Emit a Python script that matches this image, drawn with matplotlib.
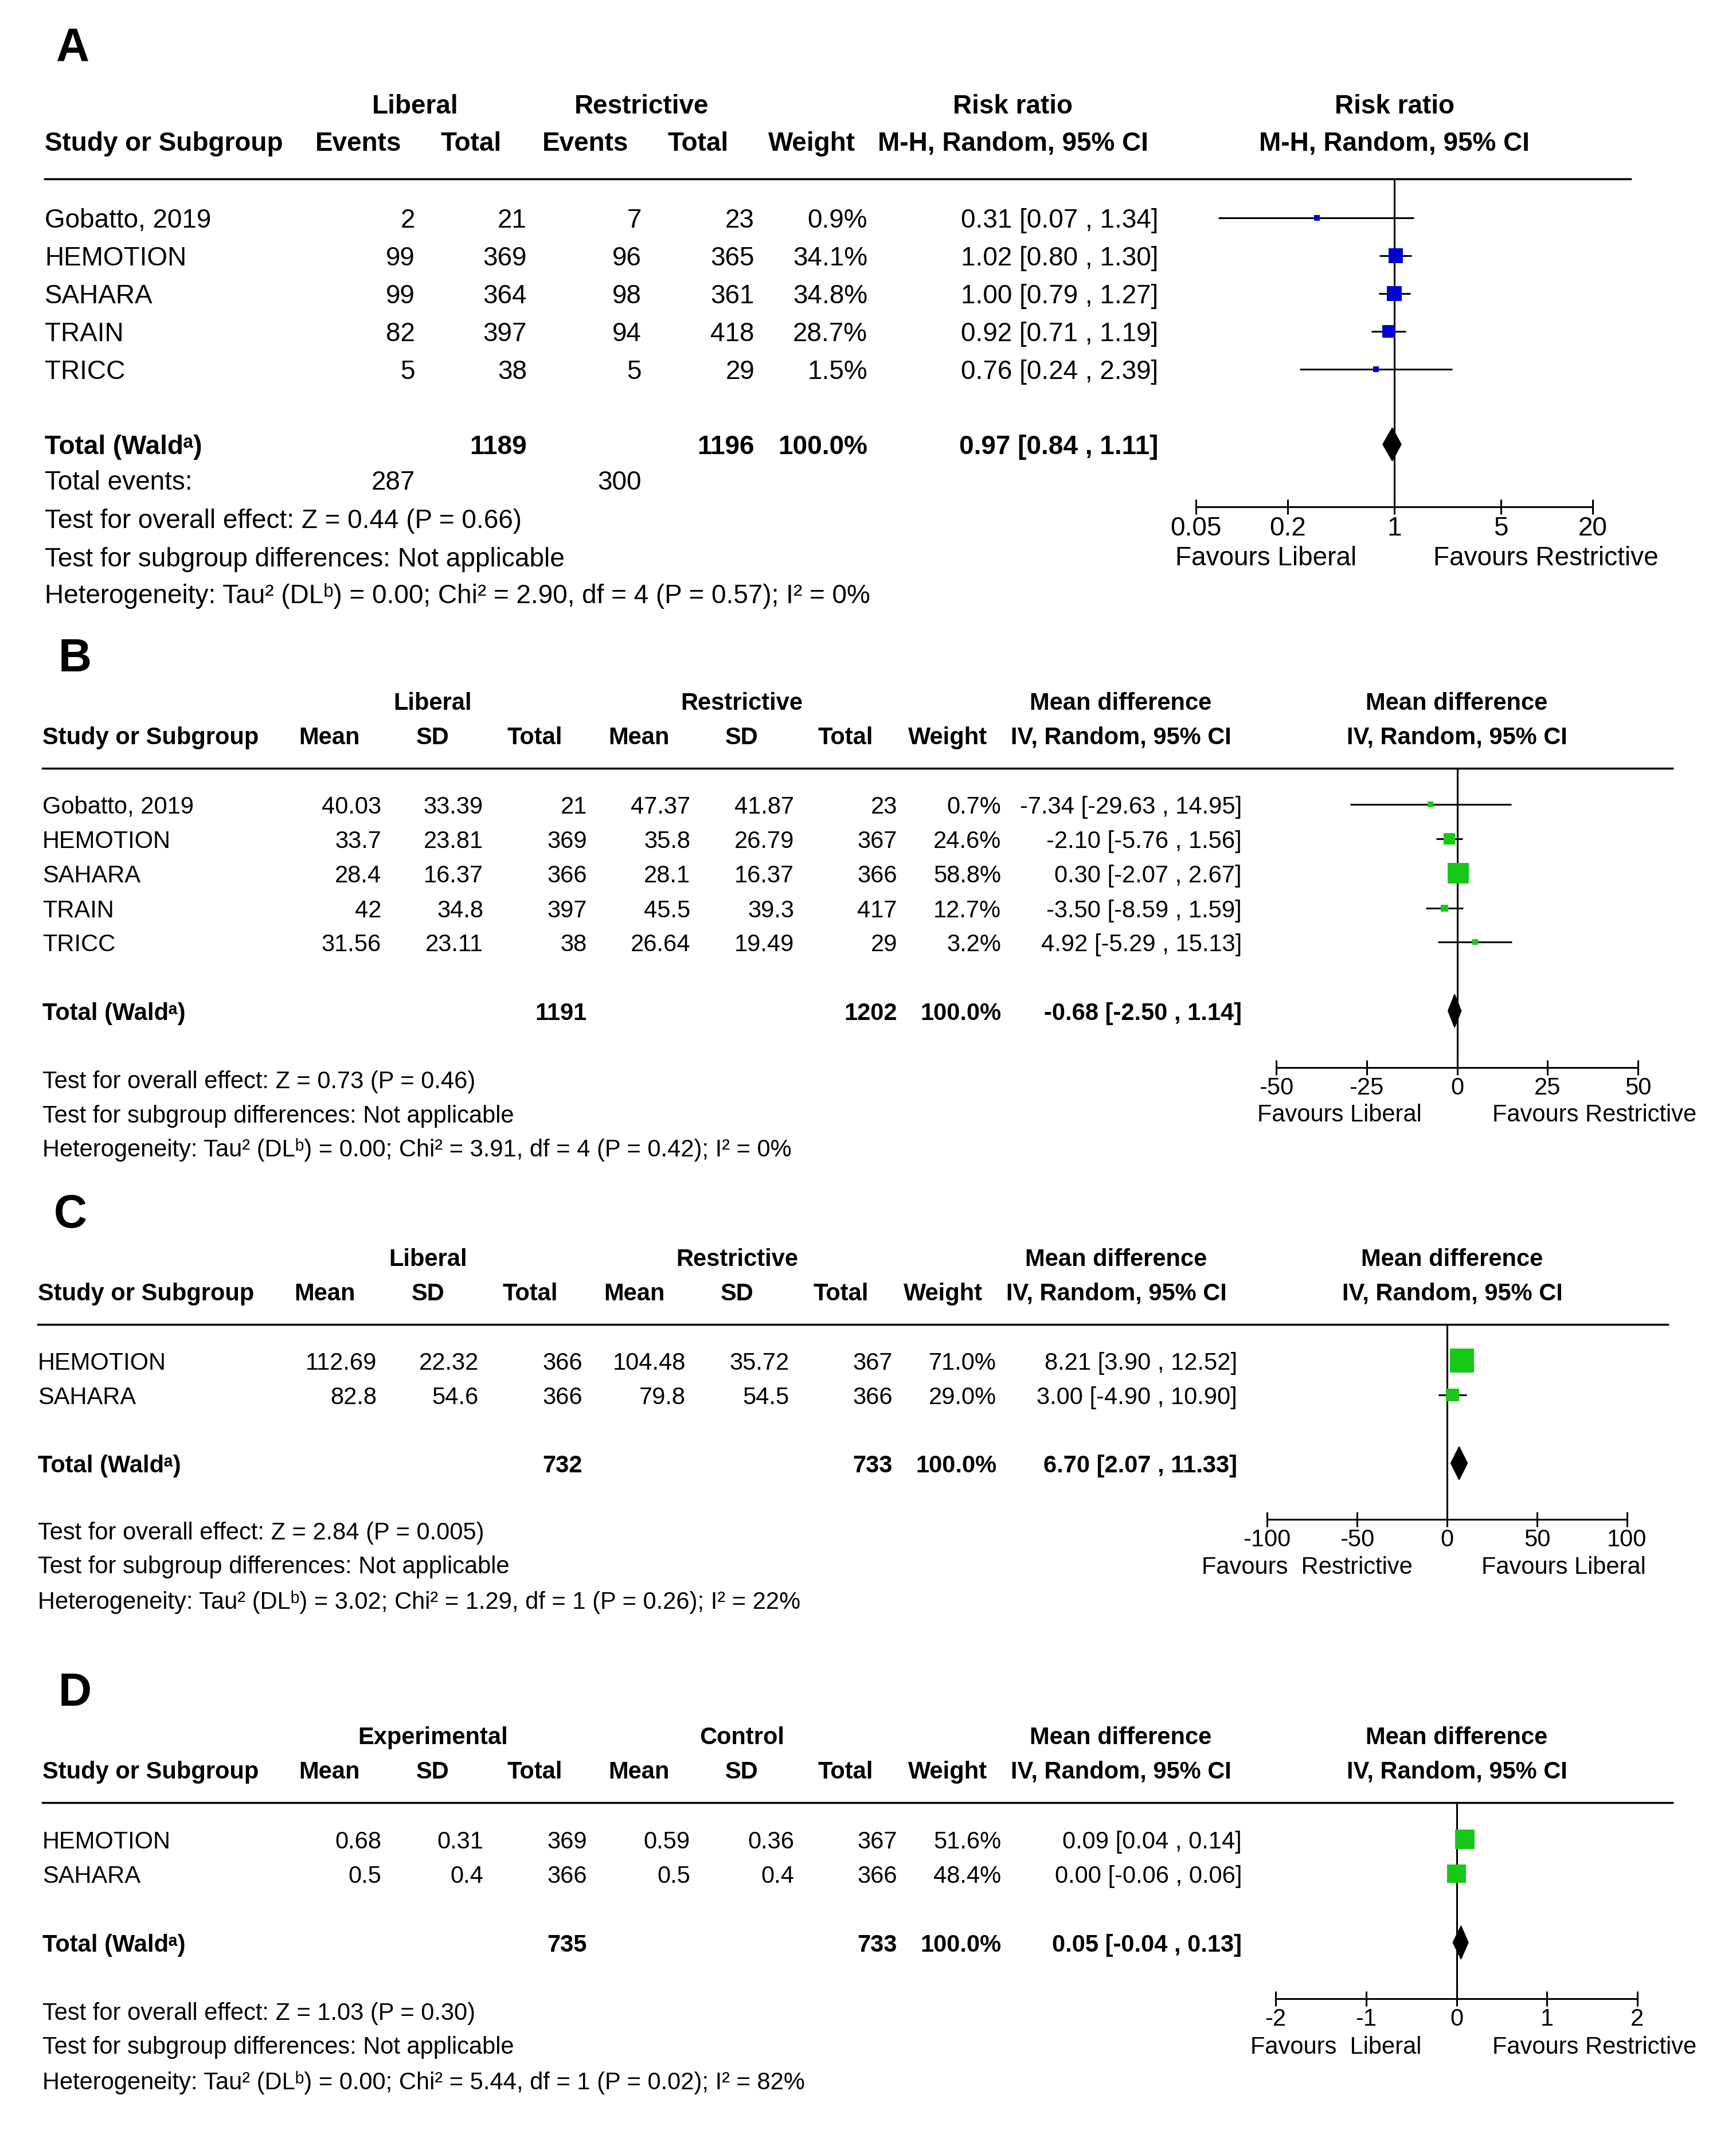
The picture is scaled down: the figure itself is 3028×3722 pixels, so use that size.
import matplotlib
matplotlib.use("Agg")
import matplotlib.pyplot as plt
from matplotlib.patches import Polygon
from matplotlib.ticker import NullLocator

plt.rcParams['font.family'] = ['Liberation Sans', 'DejaVu Sans']

# ---------------- data ----------------
# A: risk ratio
a_studies = ["Gobatto, 2019", "HEMOTION", "SAHARA", "TRAIN", "TRICC"]
a_lib_events = [2, 99, 99, 82, 5]
a_lib_total = [21, 369, 364, 397, 38]
a_res_events = [7, 96, 98, 94, 5]
a_res_total = [23, 365, 361, 418, 29]
a_weight = [0.9, 34.1, 34.8, 28.7, 1.5]
a_est = [0.31, 1.02, 1.00, 0.92, 0.76]
a_lo = [0.07, 0.80, 0.79, 0.71, 0.24]
a_hi = [1.34, 1.30, 1.27, 1.19, 2.39]
a_pooled = [0.97, 0.84, 1.11]
a_sum_total = [1189, 1196]
a_sum_events = [287, 300]

# B: mean difference
b_studies = ["Gobatto, 2019", "HEMOTION", "SAHARA", "TRAIN", "TRICC"]
b_lib_mean = [40.03, 33.7, 28.4, 42, 31.56]
b_lib_sd = [33.39, 23.81, 16.37, 34.8, 23.11]
b_lib_n = [21, 369, 366, 397, 38]
b_res_mean = [47.37, 35.8, 28.1, 45.5, 26.64]
b_res_sd = [41.87, 26.79, 16.37, 39.3, 19.49]
b_res_n = [23, 367, 366, 417, 29]
b_weight = [0.7, 24.6, 58.8, 12.7, 3.2]
b_est = [-7.34, -2.10, 0.30, -3.50, 4.92]
b_lo = [-29.63, -5.76, -2.07, -8.59, -5.29]
b_hi = [14.95, 1.56, 2.67, 1.59, 15.13]
b_pooled = [-0.68, -2.50, 1.14]
b_sum_total = [1191, 1202]

# C
c_studies = ["HEMOTION", "SAHARA"]
c_lib_mean = [112.69, 82.8]
c_lib_sd = [22.32, 54.6]
c_lib_n = [366, 366]
c_res_mean = [104.48, 79.8]
c_res_sd = [35.72, 54.5]
c_res_n = [367, 366]
c_weight = [71.0, 29.0]
c_est = [8.21, 3.00]
c_lo = [3.90, -4.90]
c_hi = [12.52, 10.90]
c_pooled = [6.70, 2.07, 11.33]
c_sum_total = [732, 733]

# D
d_studies = ["HEMOTION", "SAHARA"]
d_exp_mean = [0.68, 0.5]
d_exp_sd = [0.31, 0.4]
d_exp_n = [369, 366]
d_ctl_mean = [0.59, 0.5]
d_ctl_sd = [0.36, 0.4]
d_ctl_n = [367, 366]
d_weight = [51.6, 48.4]
d_est = [0.09, 0.00]
d_lo = [0.04, -0.06]
d_hi = [0.14, 0.06]
d_pooled = [0.05, -0.04, 0.13]
d_sum_total = [735, 733]

a_notes = ["Test for overall effect: Z = 0.44 (P = 0.66)",
           "Test for subgroup differences: Not applicable",
           "Heterogeneity: Tau² (DLᵇ) = 0.00; Chi² = 2.90, df = 4 (P = 0.57); I² = 0%"]
b_notes = ["Test for overall effect: Z = 0.73 (P = 0.46)",
           "Test for subgroup differences: Not applicable",
           "Heterogeneity: Tau² (DLᵇ) = 0.00; Chi² = 3.91, df = 4 (P = 0.42); I² = 0%"]
c_notes = ["Test for overall effect: Z = 2.84 (P = 0.005)",
           "Test for subgroup differences: Not applicable",
           "Heterogeneity: Tau² (DLᵇ) = 3.02; Chi² = 1.29, df = 1 (P = 0.26); I² = 22%"]
d_notes = ["Test for overall effect: Z = 1.03 (P = 0.30)",
           "Test for subgroup differences: Not applicable",
           "Heterogeneity: Tau² (DLᵇ) = 0.00; Chi² = 5.44, df = 1 (P = 0.02); I² = 82%"]

# ---------------- figure ----------------
W, H = 3028, 3723
fig = plt.figure(figsize=(W / 100, H / 100), dpi=100)
bg = fig.add_axes([0, 0, 1, 1])
bg.set_xlim(0, W)
bg.set_ylim(H, 0)
bg.axis('off')

FS_A = 33   # panel A text is a bit larger
FS_B = 30
BLUE = "#0000CC"
GREEN = "#18C818"


def put(x, y, s, size, ha='left', bold=False):
    # y is the centre of the capitals; place text by its baseline
    bg.text(x, y + 0.497 * size, s, ha=ha, va='baseline', fontsize=size,
            fontweight='bold' if bold else 'normal')


def ci_text(e, l, h):
    return f"{e:.2f} [{l:.2f} , {h:.2f}]"


def forest(x0, x1, ytop, ybot, xlim, ticks, ticklabels, ref, rows, est, lo, hi,
           weight, pooled, pooled_y, color, size, log=False):
    ax = fig.add_axes([x0 / W, 1 - ybot / H, (x1 - x0) / W, (ybot - ytop) / H])
    if log:
        ax.set_xscale('log')
    ax.set_xlim(*xlim)
    ax.set_ylim(ybot, ytop)
    ax.patch.set_visible(False)
    for s in ['top', 'left', 'right']:
        ax.spines[s].set_visible(False)
    ax.spines['bottom'].set_linewidth(2.2)
    ax.set_yticks([])
    ax.set_xticks(ticks)
    ax.set_xticklabels(ticklabels)
    ax.xaxis.set_minor_locator(NullLocator())
    ax.tick_params(axis='x', direction='inout', length=19, width=2.2,
                   labelsize=size, pad=1)
    ax.axvline(ref, color='black', lw=2.2, zorder=1)
    ax.hlines(rows, lo, hi, color='black', lw=2.2, zorder=2, clip_on=False)
    # box side grows with weight, with a minimum size (pixels -> points)
    sides = [max(10, 2.13 * w ** 0.7) * 0.72 for w in weight]
    ax.scatter(est, rows, marker='s', s=[sd ** 2 for sd in sides], color=color,
               linewidths=0, zorder=3, clip_on=False)
    e, l, h = pooled
    ax.add_patch(Polygon([[l, pooled_y], [e, pooled_y - 29], [h, pooled_y],
                          [e, pooled_y + 29]], closed=True, color='black', zorder=4))
    return ax


# ================= Panel A =================
fs = FS_A
put(98, 77, "A", 58, bold=True)
put(724, 182, "Liberal", fs, ha='center', bold=True)
put(1119, 182, "Restrictive", fs, ha='center', bold=True)
put(1767, 182, "Risk ratio", fs, ha='center', bold=True)
put(2432, 182, "Risk ratio", fs, ha='center', bold=True)
put(78, 247, "Study or Subgroup", fs, bold=True)
for x, s in [(625, "Events"), (822, "Total"), (1021, "Events"), (1218, "Total"),
             (1416, "Weight"), (1767, "M-H, Random, 95% CI"), (2432, "M-H, Random, 95% CI")]:
    put(x, 247, s, fs, ha='center', bold=True)
bg.plot([78, 2844], [313, 313], color='black', lw=2.5)

a_rows = [381, 447, 513, 579, 645]
for i, y in enumerate(a_rows):
    put(78, y, a_studies[i], fs)
    put(724, y, str(a_lib_events[i]), fs, ha='right')
    put(919, y, str(a_lib_total[i]), fs, ha='right')
    put(1119, y, str(a_res_events[i]), fs, ha='right')
    put(1316, y, str(a_res_total[i]), fs, ha='right')
    put(1513, y, f"{a_weight[i]:.1f}%", fs, ha='right')
    put(2020, y, ci_text(a_est[i], a_lo[i], a_hi[i]), fs, ha='right')
put(78, 776, "Total (Waldᵃ)", fs, bold=True)
put(919, 776, str(a_sum_total[0]), fs, ha='right', bold=True)
put(1316, 776, str(a_sum_total[1]), fs, ha='right', bold=True)
put(1513, 776, "100.0%", fs, ha='right', bold=True)
put(2020, 776, ci_text(*a_pooled), fs, ha='right', bold=True)
put(78, 838, "Total events:", fs)
put(724, 838, str(a_sum_events[0]), fs, ha='right')
put(1119, 838, str(a_sum_events[1]), fs, ha='right')
for y, s in zip([905, 972, 1036], a_notes):
    put(78, y, s, fs)
forest(2086, 2778, 313, 885, (0.05, 20), [0.05, 0.2, 1, 5, 20],
       ["0.05", "0.2", "1", "5", "20"], 1, a_rows, a_est, a_lo, a_hi,
       a_weight, a_pooled, 776, BLUE, fs, log=True)
put(2050, 970, "Favours Liberal", fs)
put(2500, 970, "Favours Restrictive", fs)


# ============ Panels B, C, D (continuous outcomes) ============
def md_panel(letter, ytop, dx, grp, studies, m1, s1, n1, m2, s2, n2, weight,
             est, lo, hi, pooled, sums, notes, rows, tot_y, note_ys, axis_y,
             xlim, ticks, ticklabels, ax_x, fav, fav_y):
    fs = FS_B
    put(102 + dx, ytop - 81, letter, 58, bold=True)
    h1, h2, hl = ytop, ytop + 60, ytop + 118
    put(755 + dx, h1, grp[0], fs, ha='center', bold=True)
    put(1294 + dx, h1, grp[1], fs, ha='center', bold=True)
    put(1955 + dx, h1, "Mean difference", fs, ha='center', bold=True)
    put(2541 + dx, h1, "Mean difference", fs, ha='center', bold=True)
    put(74 + dx, h2, "Study or Subgroup", fs, bold=True)
    for x, s in [(575, "Mean"), (755, "SD"), (933, "Total"), (1114, "Mean"),
                 (1294, "SD"), (1475, "Total"), (1653, "Weight"),
                 (1955, "IV, Random, 95% CI"), (2541, "IV, Random, 95% CI")]:
        put(x + dx, h2, s, fs, ha='center', bold=True)
    bg.plot([74 + dx, 2917 + dx], [hl, hl], color='black', lw=2.5)
    for i, y in enumerate(rows):
        put(74 + dx, y, studies[i], fs)
        put(665 + dx, y, f"{m1[i]:g}", fs, ha='right')
        put(843 + dx, y, f"{s1[i]:g}", fs, ha='right')
        put(1024 + dx, y, str(n1[i]), fs, ha='right')
        put(1204 + dx, y, f"{m2[i]:g}", fs, ha='right')
        put(1385 + dx, y, f"{s2[i]:g}", fs, ha='right')
        put(1565 + dx, y, str(n2[i]), fs, ha='right')
        put(1746 + dx, y, f"{weight[i]:.1f}%", fs, ha='right')
        put(2166 + dx, y, ci_text(est[i], lo[i], hi[i]), fs, ha='right')
    put(74 + dx, tot_y, "Total (Waldᵃ)", fs, bold=True)
    put(1024 + dx, tot_y, str(sums[0]), fs, ha='right', bold=True)
    put(1565 + dx, tot_y, str(sums[1]), fs, ha='right', bold=True)
    put(1746 + dx, tot_y, "100.0%", fs, ha='right', bold=True)
    put(2166 + dx, tot_y, ci_text(*pooled), fs, ha='right', bold=True)
    for y, s in zip(note_ys, notes):
        put(74 + dx, y, s, fs)
    forest(ax_x[0], ax_x[1], hl, axis_y, xlim, ticks, ticklabels, 0, rows, est,
           lo, hi, weight, pooled, tot_y, GREEN, fs)
    for x, s in fav:
        put(x, fav_y, s, fs)


md_panel("B", 1223, 0, ["Liberal", "Restrictive"], b_studies, b_lib_mean,
         b_lib_sd, b_lib_n, b_res_mean, b_res_sd, b_res_n, b_weight, b_est,
         b_lo, b_hi, b_pooled, b_sum_total, b_notes,
         [1404, 1464, 1524, 1585, 1644], 1764, [1883, 1943, 2002], 1863,
         (-50, 50), [-50, -25, 0, 25, 50], ["-50", "-25", "0", "25", "50"],
         (2226, 2857), [(2193, "Favours Liberal"), (2603, "Favours Restrictive")], 1941)

md_panel("C", 2193, -8, ["Liberal", "Restrictive"], c_studies, c_lib_mean,
         c_lib_sd, c_lib_n, c_res_mean, c_res_sd, c_res_n, c_weight, c_est,
         c_lo, c_hi, c_pooled, c_sum_total, c_notes,
         [2374, 2434], 2553, [2670, 2729, 2791], 2651,
         (-100, 100), [-100, -50, 0, 50, 100], ["-100", "-50", "0", "50", "100"],
         (2210, 2838), [(2096, "Favours  Restrictive"), (2584, "Favours Liberal")], 2730)

md_panel("D", 3027, 0, ["Experimental", "Control"], d_studies, d_exp_mean,
         d_exp_sd, d_exp_n, d_ctl_mean, d_ctl_sd, d_ctl_n, d_weight, d_est,
         d_lo, d_hi, d_pooled, d_sum_total, d_notes,
         [3209, 3269], 3389, [3508, 3567, 3629], 3487,
         (-2, 2), [-2, -1, 0, 1, 2], ["-2", "-1", "0", "1", "2"],
         (2225, 2856), [(2181, "Favours  Liberal"), (2603, "Favours Restrictive")], 3567)

fig.savefig("out.png", dpi=100)
